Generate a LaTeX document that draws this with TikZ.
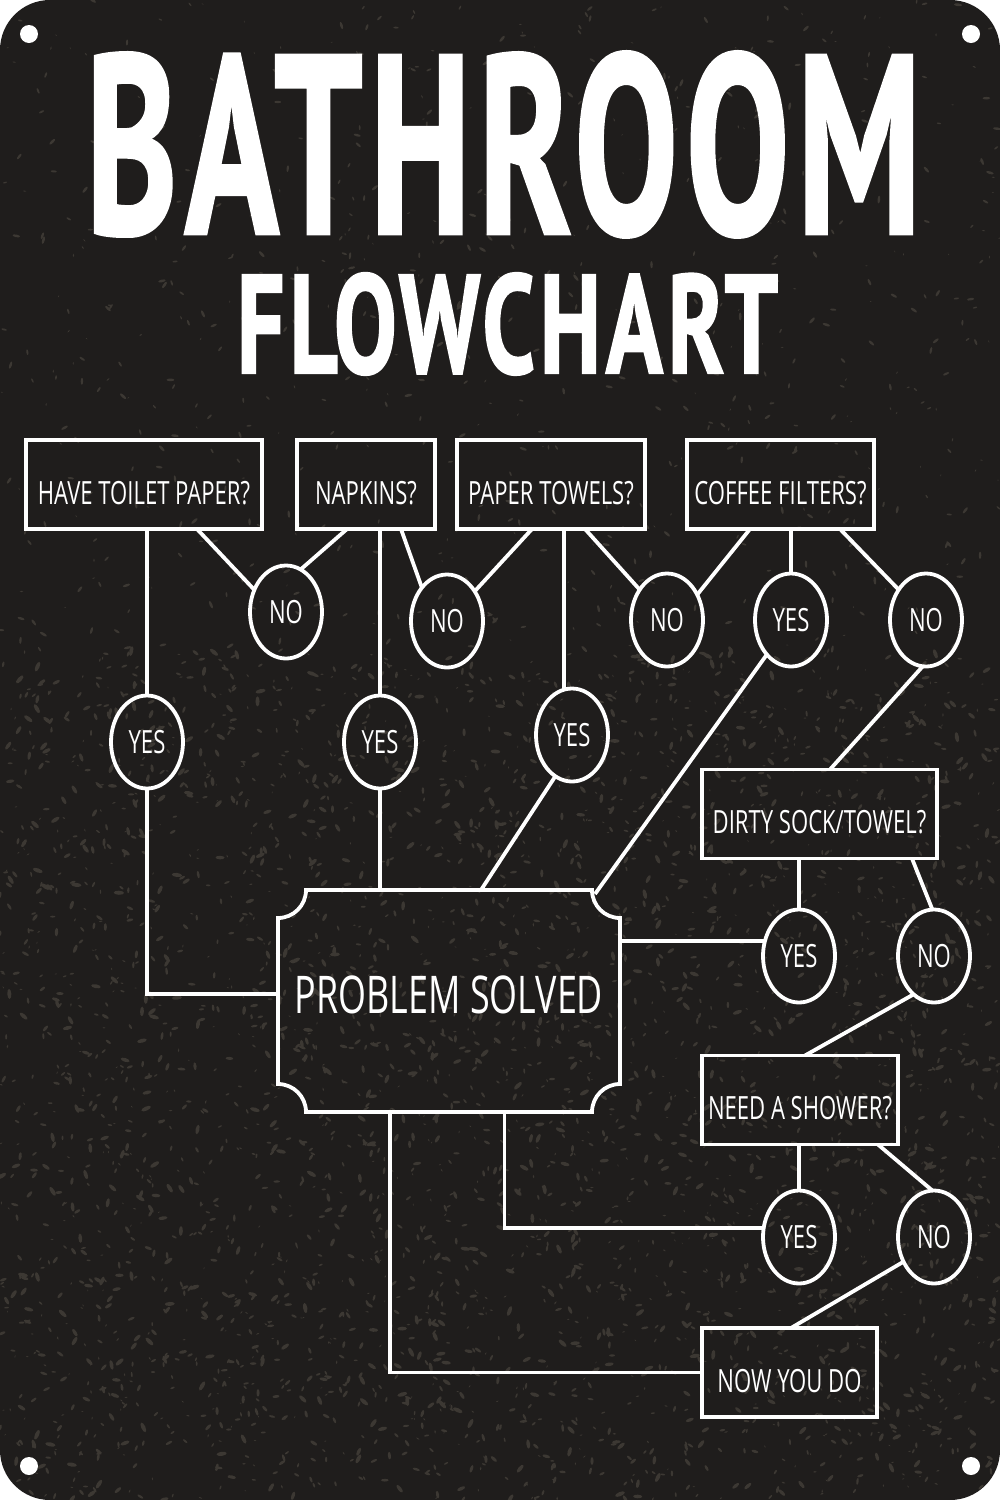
\documentclass[tikz,border=0pt]{standalone}
\usepackage{fontspec}
\setmainfont{Open Sans}
\newfontfamily\lblfont{Open Sans}
\newfontfamily\ttlfont{PT Sans Bold}[FakeBold=1.6,LetterSpace=5]
\usetikzlibrary{shapes.geometric,calc}
\definecolor{board}{HTML}{1F1D1C}
\definecolor{speck}{HTML}{3C3833}
\newcommand\boxlbl[1]{\scalebox{0.69}[1]{#1}}
\begin{document}
\begin{tikzpicture}[x=1pt,y=1pt,
  conn/.style={draw=white, line width=3.8pt},
  qbox/.style={rectangle, draw=white, line width=3.8pt, minimum width=#1, minimum height=89pt,
    inner sep=0pt, outer sep=0pt, text=white, font=\lblfont\fontsize{32}{32}\selectfont,
    text height=39pt, text depth=0pt},
  ans/.style={ellipse, draw=white, line width=3.8pt, minimum width=72pt, minimum height=93pt,
    inner sep=0pt, outer sep=0pt, text=white, font=\lblfont\fontsize{32}{32}\selectfont},
  psnode/.style={rectangle, draw=none, minimum width=342pt, minimum height=222pt,
    inner sep=0pt, outer sep=0pt, text=white, font=\lblfont\fontsize{52}{52}\selectfont,
    text height=25pt, text depth=0pt},
  ttl/.style={inner sep=0pt, outer sep=0pt, text=white, align=center, font=\fontsize{10}{10}\selectfont}
]
\useasboundingbox (0,0) rectangle (1000,-1500);
\fill[white] (0,0) rectangle (1000,-1500);
\fill[board, rounded corners=50pt] (0,0) rectangle (1000,-1500);
\begin{scope}
  \clip[rounded corners=50pt] (0,0) rectangle (1000,-1500);
  \pgfmathsetseed{1234}
  \foreach \i in {1,...,1800}{
    \pgfmathsetmacro{\px}{rnd*1000}
    \pgfmathsetmacro{\py}{-rnd*1500}
    \pgfmathsetmacro{\pr}{0.5+rnd*1.5}
    \pgfmathsetmacro{\pa}{rnd*180}
    \fill[speck, rotate around={\pa:(\px,\py)}] (\px,\py) ellipse[x radius=\pr*2, y radius=\pr*0.7];
  }
  \foreach \i in {1,...,2600}{
    \pgfmathsetmacro{\px}{rnd*1000}
    \pgfmathsetmacro{\py}{-650-rnd*850}
    \pgfmathsetmacro{\pr}{0.6+rnd*2}
    \pgfmathsetmacro{\pa}{rnd*180}
    \fill[speck, rotate around={\pa:(\px,\py)}] (\px,\py) ellipse[x radius=\pr*2, y radius=\pr*0.8];
  }
\end{scope}
% mounting holes
\fill[white] (29,-34) circle[radius=9pt];
\fill[white] (971,-34) circle[radius=9pt];
\fill[white] (29,-1466) circle[radius=9pt];
\fill[white] (971,-1466) circle[radius=9pt];

% title
\node[ttl, anchor=north] (title) at (503.5,-52)
  {\resizebox{835pt}{181pt}{\ttlfont BATHROOM}\\[35pt]\hspace*{8pt}\resizebox{541pt}{100pt}{\ttlfont FLOWCHART}};

% question boxes
\node[qbox=236pt] (htp) at (144,-484.5) {\boxlbl{HAVE TOILET PAPER?}};
\node[qbox=138pt] (nap) at (366,-484.5) {\boxlbl{NAPKINS?}};
\node[qbox=188pt] (pt) at (551,-484.5) {\boxlbl{PAPER TOWELS?}};
\node[qbox=187pt] (cf) at (780.5,-484.5) {\boxlbl{COFFEE FILTERS?}};
\node[qbox=235pt] (ds) at (819.5,-814) {\boxlbl{DIRTY SOCK/TOWEL?}};
\node[qbox=196pt] (ns) at (800,-1100) {\boxlbl{NEED A SHOWER?}};
\node[qbox=175pt] (now) at (789.5,-1372.5) {\boxlbl{NOW YOU DO}};

% answers
\node[ans] (no1) at (286,-612) {\boxlbl{NO}};
\node[ans] (no2) at (447,-621) {\boxlbl{NO}};
\node[ans] (yes1) at (147,-742) {\boxlbl{YES}};
\node[ans] (yes2) at (380,-742) {\boxlbl{YES}};
\node[ans] (ptyes) at (572,-735) {\boxlbl{YES}};
\node[ans] (no3) at (667,-620) {\boxlbl{NO}};
\node[ans] (cfyes) at (791,-620) {\boxlbl{YES}};
\node[ans] (no4) at (926,-620) {\boxlbl{NO}};
\node[ans] (dsyes) at (799,-956) {\boxlbl{YES}};
\node[ans] (dsno) at (934,-956) {\boxlbl{NO}};
\node[ans] (nsyes) at (799,-1237) {\boxlbl{YES}};
\node[ans] (nsno) at (934,-1237) {\boxlbl{NO}};

% problem solved
\node[psnode] (ps) at (449,-1001) {\boxlbl{PROBLEM SOLVED}};
\draw[conn] ([xshift=28pt]ps.north west) -- ([xshift=-28pt]ps.north east)
  arc[start angle=180, end angle=270, radius=28pt]
  -- ([yshift=28pt]ps.south east)
  arc[start angle=90, end angle=180, radius=28pt]
  -- ([xshift=28pt]ps.south west)
  arc[start angle=0, end angle=90, radius=28pt]
  -- ([yshift=-28pt]ps.north west)
  arc[start angle=-90, end angle=0, radius=28pt] -- cycle;
\coordinate (psTR) at (595,-894);

% connectors
\draw[conn] (htp.south -| yes1) -- (yes1.north);
\draw[conn] (yes1.south) |- ([yshift=7pt]ps.west);
\draw[conn] ([xshift=53pt]htp.south) -- (no1.145);
\draw[conn] ([xshift=-19pt]nap.south) -- (no1.71);
\draw[conn] (nap.south -| yes2) -- (yes2.north);
\draw[conn] (yes2.south) -- (yes2.south |- ps.north);
\draw[conn] ([xshift=35pt]nap.south) -- (no2.127);
\draw[conn] ([xshift=-19pt]pt.south) -- (no2.47);
\draw[conn] (ptyes.100 |- pt.south) -- (ptyes.100);
\draw[conn] (ptyes.248) -- ([xshift=32pt]ps.north);
\draw[conn] ([xshift=34pt]pt.south) -- (no3.132);
\draw[conn] ([xshift=-30.5pt]cf.south) -- (no3.40);
\draw[conn] (cf.south -| cfyes) -- (cfyes.north);
\draw[conn] (cfyes.235) -- (psTR);
\draw[conn] ([xshift=59.5pt]cf.south) -- (no4.132);
\draw[conn] (no4.266) -- ([xshift=10.5pt]ds.north);
\draw[conn] (ds.south -| dsyes) -- (dsyes.north);
\draw[conn] ([xshift=92.5pt]ds.south) -- (dsno.92);
\draw[conn] (dsyes.156) -- (dsyes.156 -| ps.east);
\draw[conn] (dsno.242) -- ([xshift=5pt]ns.north);
\draw[conn] (ns.south -| nsyes) -- (nsyes.north);
\draw[conn] ([xshift=78pt]ns.south) -- (nsno.92);
\draw[conn] (nsyes.166) -| ([xshift=55.5pt]ps.south);
\draw[conn] (nsno.219) -- ([xshift=1.5pt]now.north);
\draw[conn] (now.west) -| ([xshift=-59pt]ps.south);
\end{tikzpicture}
\end{document}
